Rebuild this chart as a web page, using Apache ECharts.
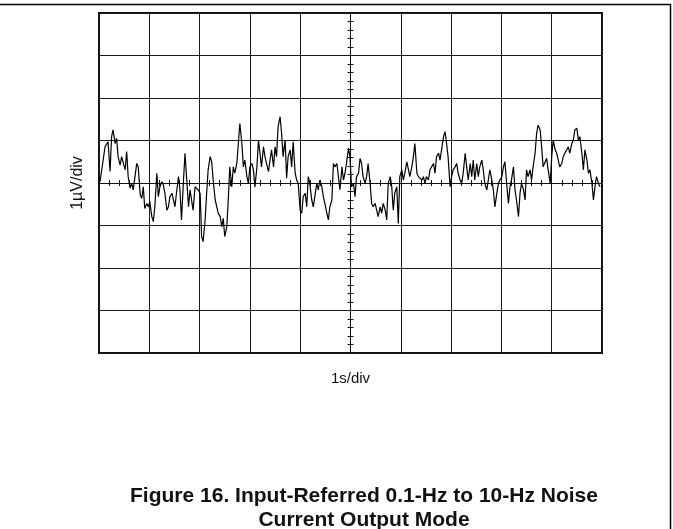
<!DOCTYPE html>
<html>
<head>
<meta charset="utf-8">
<script src="https://cdn.jsdelivr.net/npm/echarts@6/dist/echarts.min.js"></script>
<style>
  html, body { margin: 0; padding: 0; background: #fff; }
  #chart { width: 673px; height: 529px; }
</style>
</head>
<body>
<div id="chart"></div>
<script>
// Scope capture: 0.1-Hz to 10-Hz noise, 1 s/div horizontal, 1 µV/div vertical.
const timeS = [
  0.02, 0.12, 0.18, 0.22, 0.25, 0.28, 0.32, 0.35, 0.38, 0.42, 0.45, 0.48, 0.52, 0.55, 0.58, 0.62,
  0.65, 0.68, 0.72, 0.75, 0.78, 0.82, 0.85, 0.88, 0.91, 0.95, 0.98, 1.01, 1.05, 1.08, 1.11, 1.15,
  1.18, 1.21, 1.25, 1.28, 1.31, 1.35, 1.38, 1.41, 1.45, 1.48, 1.51, 1.54, 1.58, 1.61, 1.64, 1.68,
  1.71, 1.74, 1.78, 1.81, 1.84, 1.87, 1.91, 1.94, 1.97, 2.01, 2.04, 2.07, 2.11, 2.14, 2.17, 2.21,
  2.24, 2.27, 2.31, 2.37, 2.41, 2.44, 2.47, 2.50, 2.54, 2.57, 2.60, 2.64, 2.67, 2.70, 2.74, 2.77,
  2.80, 2.84, 2.87, 2.90, 2.94, 2.97, 3.00, 3.04, 3.07, 3.10, 3.14, 3.17, 3.20, 3.23, 3.27, 3.30,
  3.33, 3.37, 3.40, 3.43, 3.47, 3.50, 3.53, 3.56, 3.60, 3.63, 3.66, 3.70, 3.73, 3.76, 3.80, 3.83,
  3.86, 3.90, 3.93, 3.96, 4.00, 4.03, 4.06, 4.10, 4.13, 4.16, 4.19, 4.23, 4.26, 4.29, 4.33, 4.36,
  4.39, 4.43, 4.46, 4.49, 4.53, 4.56, 4.59, 4.63, 4.66, 4.69, 4.73, 4.76, 4.79, 4.83, 4.86, 4.89,
  4.92, 4.96, 4.99, 5.02, 5.06, 5.09, 5.12, 5.16, 5.19, 5.22, 5.25, 5.29, 5.32, 5.35, 5.39, 5.42,
  5.45, 5.49, 5.52, 5.55, 5.59, 5.62, 5.65, 5.69, 5.72, 5.75, 5.79, 5.82, 5.85, 5.88, 5.92, 5.95,
  5.98, 6.02, 6.05, 6.08, 6.12, 6.15, 6.18, 6.22, 6.25, 6.28, 6.32, 6.35, 6.38, 6.42, 6.45, 6.48,
  6.51, 6.55, 6.58, 6.61, 6.65, 6.68, 6.71, 6.75, 6.78, 6.81, 6.85, 6.88, 6.91, 6.94, 6.98, 7.01,
  7.04, 7.08, 7.11, 7.14, 7.18, 7.21, 7.24, 7.28, 7.31, 7.34, 7.38, 7.41, 7.44, 7.47, 7.51, 7.54,
  7.57, 7.61, 7.64, 7.67, 7.71, 7.74, 7.77, 7.81, 7.84, 7.87, 7.91, 7.94, 7.97, 8.01, 8.04, 8.07,
  8.11, 8.14, 8.17, 8.20, 8.24, 8.27, 8.30, 8.34, 8.37, 8.40, 8.44, 8.47, 8.50, 8.53, 8.57, 8.60,
  8.63, 8.67, 8.70, 8.73, 8.77, 8.80, 8.83, 8.87, 8.90, 8.93, 8.97, 9.00, 9.03, 9.07, 9.10, 9.13,
  9.16, 9.20, 9.23, 9.26, 9.30, 9.33, 9.36, 9.40, 9.43, 9.46, 9.50, 9.53, 9.56, 9.60, 9.63, 9.66,
  9.70, 9.73, 9.76, 9.80, 9.83, 9.86, 9.89, 9.93, 9.96
];

const noiseUV = [
  0.03, 0.85, 0.97, 0.27, 1.09, 1.25, 0.93, 1.05, 0.62, 0.42, 0.62, 0.66, 0.31, 0.74, 0.15, -0.12,
  -0.01, -0.16, 0.19, 0.46, 0.38, -0.28, -0.36, -0.09, -0.60, -0.48, -0.56, -0.44, -0.79, -0.91, -0.56, 0.23,
  -0.32, -0.09, 0.03, -0.05, -0.24, -0.64, -0.56, -0.32, -0.24, -0.40, -0.56, -0.24, 0.15, -0.16, -0.87, 0.07,
  0.70, 0.15, -0.56, -0.16, -0.40, -0.64, -0.09, -0.05, -0.16, -0.24, -1.26, -1.38, -0.87, -0.24, 0.31, 0.62,
  0.50, 0.07, -0.40, -0.71, -0.79, -1.03, -0.83, -1.26, -1.03, -0.40, 0.38, -0.09, 0.38, 0.23, 0.46, 0.93,
  1.40, 0.93, 0.38, 0.54, 0.15, -0.01, 0.38, 0.46, 0.31, -0.09, 0.38, 1.01, 0.70, 0.38, 0.85, 0.62,
  0.46, 0.27, 0.54, 0.78, 0.38, 0.85, 0.62, 1.32, 1.56, 1.17, 0.62, 1.01, 0.11, 0.62, 0.78, 0.38,
  0.97, 0.23, 0.07, -0.01, -0.64, -0.71, -0.32, -0.24, -0.56, 0.15, -0.01, -0.40, -0.56, -0.32, -0.01, -0.16,
  0.07, -0.09, -0.32, -0.48, -0.71, -0.87, -0.56, -0.40, 0.46, 0.38, 0.46, 0.15, -0.16, 0.38, 0.07, 0.23,
  0.46, 0.82, 0.62, -0.09, -0.01, -0.32, 0.15, 0.23, 0.58, 0.46, 0.15, -0.01, 0.15, 0.46, -0.01, -0.48,
  -0.56, -0.48, -0.64, -0.79, -0.56, -0.71, -0.48, -0.64, -0.87, -0.01, 0.15, -0.09, -0.64, -0.24, -0.09, -0.95,
  0.15, 0.31, 0.07, 0.23, 0.50, 0.46, 0.15, 0.38, 0.62, 0.93, 0.23, 0.15, 0.19, 0.07, 0.15, -0.01,
  0.15, 0.07, 0.31, 0.31, 0.46, 0.23, 0.62, 0.70, 0.54, 0.78, 1.09, 1.21, 0.93, 0.62, -0.09, 0.15,
  0.31, 0.38, 0.46, 0.23, 0.07, -0.01, 0.23, 0.70, 0.38, 0.07, 0.46, 0.15, 0.54, 0.07, 0.46, 0.15,
  0.38, 0.54, 0.31, -0.01, -0.16, 0.07, 0.31, 0.07, -0.16, -0.56, -0.24, -0.01, 0.07, 0.15, 0.38, 0.50,
  -0.09, -0.48, -0.09, 0.07, 0.38, -0.16, -0.40, -0.79, -0.24, -0.01, -0.16, -0.40, 0.31, 0.15, 0.31, 0.07,
  0.38, 0.70, 1.17, 1.36, 1.25, 0.85, 0.38, 0.50, 0.58, 0.31, -0.01, 0.62, 1.01, 0.78, 0.70, 0.54,
  0.38, 0.46, 0.62, 0.70, 0.78, 0.85, 0.70, 0.93, 1.01, 1.25, 1.29, 1.01, 1.09, 0.70, 0.31, 0.78,
  0.54, 0.23, 0.31, -0.01, -0.40, -0.09, 0.15, -0.01, -0.09
];

const xAxisName = '1s/div';
const yAxisName = '1\u00B5V/div';
const captionLines = ['Figure 16. Input-Referred 0.1-Hz to 10-Hz Noise', 'Current Output Mode'];

const trace = timeS.map((t, i) => [t, noiseUV[i]]);

const ink = '#111';
const gridInk = '#1a1a1a';

// Centre crosshair axis with small graduations on one side
function crossX(inside) {
  return {
    type: 'value', min: 0, max: 10, interval: 0.2,
    axisLine: { show: true, onZero: true, onZeroAxisIndex: 0, lineStyle: { color: ink, width: 1 } },
    axisTick: { show: true, inside: inside, length: 3, lineStyle: { color: ink, width: 1 } },
    axisLabel: { show: false }, splitLine: { show: false }
  };
}
function crossY(inside) {
  return {
    type: 'value', min: -4, max: 4, interval: 0.2,
    axisLine: { show: true, onZero: true, onZeroAxisIndex: 3, lineStyle: { color: ink, width: 1 } },
    axisTick: { show: true, inside: inside, length: 3, lineStyle: { color: ink, width: 1 } },
    axisLabel: { show: false }, splitLine: { show: false }
  };
}

const chart = echarts.init(document.getElementById('chart'), null, { renderer: 'canvas' });
chart.setOption({
  animation: false,
  backgroundColor: '#fff',
  textStyle: { fontFamily: 'Liberation Sans, Arial, sans-serif' },
  grid: {
    left: 99, top: 13, width: 503, height: 340,
    show: true, borderColor: ink, borderWidth: 2, backgroundColor: 'transparent'
  },
  xAxis: [
    {
      type: 'value', min: 0, max: 10, interval: 1,
      name: xAxisName, nameLocation: 'middle', nameGap: 18,
      nameTextStyle: { fontSize: 15, color: '#111', fontFamily: 'Liberation Sans, Arial, sans-serif' },
      axisLine: { show: false, onZero: false },
      axisTick: { show: false }, axisLabel: { show: false },
      splitLine: { show: true, lineStyle: { color: gridInk, width: 1 } }
    },
    crossX(true),
    crossX(false),
    {
      type: 'value', min: -5, max: 5, show: false,
      axisLine: { onZero: false }, splitLine: { show: false }
    }
  ],
  yAxis: [
    {
      type: 'value', min: -4, max: 4, interval: 1,
      name: yAxisName, nameLocation: 'middle', nameGap: 13, nameRotate: 90,
      nameTextStyle: { fontSize: 16, color: '#111', fontFamily: 'Liberation Sans, Arial, sans-serif' },
      axisLine: { show: false, onZero: false },
      axisTick: { show: false }, axisLabel: { show: false },
      splitLine: { show: true, lineStyle: { color: gridInk, width: 1 } }
    },
    crossY(true),
    crossY(false)
  ],
  series: [
    {
      type: 'line',
      xAxisIndex: 0, yAxisIndex: 0,
      data: trace,
      showSymbol: false, symbol: 'none',
      lineStyle: { color: '#000', width: 1.2 },
      z: 5
    }
  ],
  graphic: [
    // page frame: top rule and right rule
    { type: 'line', shape: { x1: 0, y1: 4.5, x2: 671, y2: 4.5 }, style: { stroke: '#000', lineWidth: 1.5 }, silent: true },
    { type: 'line', shape: { x1: 670.5, y1: 4, x2: 670.5, y2: 529 }, style: { stroke: '#000', lineWidth: 1.5 }, silent: true },
    {
      type: 'text', x: 364, y: 484,
      style: {
        text: captionLines.join('\n'), textAlign: 'center', textVerticalAlign: 'top', fill: '#111',
        font: 'bold 21px "Liberation Sans", Arial, sans-serif', lineHeight: 24
      }
    }
  ]
});
</script>
</body>
</html>
